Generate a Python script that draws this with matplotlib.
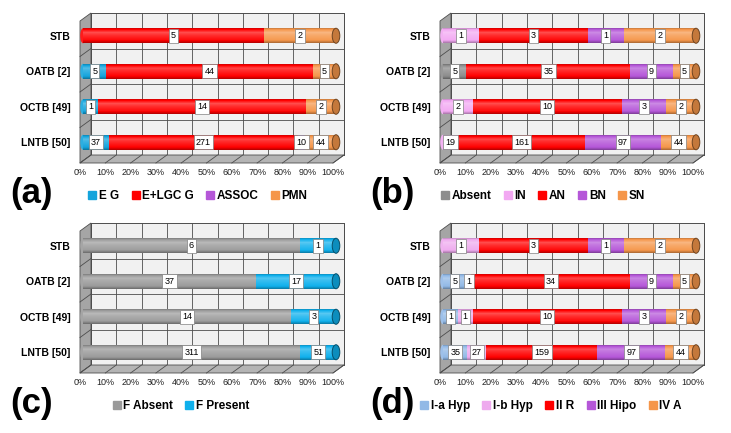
"""Four 100% stacked cylinder bar panels (a)-(d)."""

import matplotlib

matplotlib.use("Agg")
import matplotlib.pyplot as plt
import numpy as np
from matplotlib.colors import to_rgb
from matplotlib.lines import Line2D
from matplotlib.patches import Ellipse, Polygon, Rectangle

plt.rcParams["font.family"] = ["Liberation Sans", "DejaVu Sans"]

CATEGORIES = ["STB", "OATB [2]", "OCTB [49]", "LNTB [50]"]
TICK_LABELS = [f"{p}%" for p in range(0, 101, 10)]

# panel (a)
A_SERIES = ["E G", "E+LGC G", "ASSOC", "PMN"]
A_VALUES = [
    [0, 5, 0, 2],
    [5, 44, 0, 5],
    [1, 14, 0, 2],
    [37, 271, 10, 44],
]
A_COLORS = ["#14a4dc", "#ff0000", "#b557d8", "#f5964a"]

# panel (b)
B_SERIES = ["Absent", "IN", "AN", "BN", "SN"]
B_VALUES = [
    [0, 1, 3, 1, 2],
    [5, 0, 35, 9, 5],
    [0, 2, 10, 3, 2],
    [0, 19, 161, 97, 44],
]
B_COLORS = ["#8c8c8c", "#f2a8f2", "#ff0000", "#b557d8", "#f5964a"]

# panel (c)
C_SERIES = ["F Absent", "F Present"]
C_VALUES = [
    [6, 1],
    [37, 17],
    [14, 3],
    [311, 51],
]
C_COLORS = ["#9a9a9a", "#0fb0ec"]

# panel (d)
D_SERIES = ["I-a Hyp", "I-b Hyp", "II R", "III Hipo", "IV A"]
D_VALUES = [
    [0, 1, 3, 1, 2],
    [5, 1, 34, 9, 5],
    [1, 1, 10, 3, 2],
    [35, 27, 159, 97, 44],
]
D_COLORS = ["#92b9e6", "#eeaaee", "#ff0000", "#b557d8", "#f5964a"]

W, H = 731, 433
FRONT_W, FRONT_H = 253, 142
PX_X, PX_Y = FRONT_W / 100, FRONT_H / 4
BACK = (11 / PX_X, 8 / PX_Y)
BAR = (3 / PX_X, 3 / PX_Y)
BAR_H = 15 / PX_Y


def shade(color, t):
    c = np.array(to_rgb(color))
    w = np.interp(t, [0, 0.18, 0.55, 0.72, 0.88, 1], [-0.32, 0, 0.18, 0.3, 0.05, -0.2])
    if w < 0:
        return tuple(c * (1 + w))
    return tuple(c + (1 - c) * w)


def draw_frame(ax):
    bx, by = BACK
    edge = "#4d4d4d"
    # back wall
    ax.add_patch(Rectangle((bx, -0.5 + by), 100, 4, fc="#f1f1f1", ec=edge, lw=0.7,
                           clip_on=False, zorder=0))
    for x in range(0, 101, 10):
        ax.plot([x + bx, x + bx], [-0.5 + by, 3.5 + by], color=edge, lw=0.6,
                clip_on=False, zorder=0.5)
    for y in [0.5, 1.5, 2.5]:
        ax.plot([bx, 100 + bx], [y + by, y + by], color=edge, lw=0.6,
                clip_on=False, zorder=0.5)
    # left wall
    ax.add_patch(Polygon([(0, -0.5), (bx, -0.5 + by), (bx, 3.5 + by), (0, 3.5)],
                         closed=True, fc="#a5a5a5", ec=edge, lw=0.6, clip_on=False, zorder=1))
    for y in [0.5, 1.5, 2.5]:
        ax.plot([0, bx], [y, y + by], color=edge, lw=0.6, clip_on=False, zorder=1.1)
    # floor
    ax.add_patch(Polygon([(0, -0.5), (100, -0.5), (100 + bx, -0.5 + by), (bx, -0.5 + by)],
                         closed=True, fc="#b4b4b4", ec=edge, lw=0.6, clip_on=False, zorder=1))
    for x in range(0, 101, 10):
        ax.plot([x, x + bx], [-0.5, -0.5 + by], color=edge, lw=0.6, clip_on=False, zorder=1.1)


def draw_bars(ax, values, colors):
    cx, cy = BAR
    n_strips = 16
    for i, row in enumerate(values):
        yc = 3 - i + cy
        total = sum(row)
        pct = [100 * v / total for v in row]
        left = cx
        first = next(k for k, v in enumerate(row) if v > 0)
        last = max(k for k, v in enumerate(row) if v > 0)
        ax.add_patch(Ellipse((left, yc), 2.2, BAR_H, fc=shade(colors[first], 0.4),
                             ec="none", clip_on=False, zorder=2))
        for k, p in enumerate(pct):
            if p == 0:
                continue
            for s in range(n_strips):
                t = (s + 0.5) / n_strips
                y0 = yc - BAR_H / 2 + s * BAR_H / n_strips
                ax.add_patch(Rectangle((left, y0), p, BAR_H / n_strips * 1.05,
                                       fc=shade(colors[k], t), ec="none", lw=0,
                                       clip_on=False, zorder=2.1))
            left += p
        end_col = np.array(to_rgb(colors[last]))
        ax.add_patch(Ellipse((100 + cx, yc), 3.0, BAR_H, fc=tuple(end_col * 0.8),
                             ec=tuple(end_col * 0.45), lw=0.7, clip_on=False, zorder=2.3))
        left = cx
        for v, p in zip(row, pct):
            if v > 0:
                ax.text(left + p / 2, yc, str(v), ha="center", va="center", fontsize=6.5,
                        zorder=3, bbox=dict(boxstyle="square,pad=0.25", fc="white",
                                            ec="#808080", lw=0.5))
            left += p


def make_panel(fig, ox, oy, values, series, colors, letter, legend_x):
    ax = fig.add_axes([(ox + 80) / W, 1 - (oy + 163) / H, FRONT_W / W, FRONT_H / H])
    ax.set_xlim(0, 100)
    ax.set_ylim(-0.5, 3.5)
    for s in ax.spines.values():
        s.set_visible(False)
    ax.set_facecolor("none")
    draw_frame(ax)
    draw_bars(ax, values, colors)
    ax.set_xticks(range(0, 101, 10))
    ax.set_xticklabels(TICK_LABELS, fontsize=6.5)
    ax.set_yticks([3 - i + BAR[1] for i in range(4)])
    ax.set_yticklabels(CATEGORIES, fontsize=7.5, fontweight="bold")
    ax.tick_params(axis="x", length=0, pad=3.5, colors="#222222")
    ax.tick_params(axis="y", length=0, pad=7, colors="black")

    handles = [Line2D([], [], marker="s", linestyle="none", markersize=5.5,
                      markerfacecolor=c, markeredgecolor=c) for c in colors]
    fig.legend(handles, series, loc="center", ncol=len(series), frameon=False,
               bbox_to_anchor=((ox + legend_x) / W, 1 - (oy + 196) / H),
               prop=dict(weight="bold", size=8.5), handletextpad=0.05,
               columnspacing=0.9, handlelength=1.0)
    fig.text((ox + 32) / W, 1 - (oy + 193) / H, letter, fontsize=25,
             fontweight="bold", ha="center", va="center")


def main():
    fig = plt.figure(figsize=(W / 100, H / 100), dpi=100)
    make_panel(fig, 0, 0, A_VALUES, A_SERIES, A_COLORS, "(a)", 197)
    make_panel(fig, 360, 0, B_VALUES, B_SERIES, B_COLORS, "(b)", 182)
    make_panel(fig, 0, 210, C_VALUES, C_SERIES, C_COLORS, "(c)", 180)
    make_panel(fig, 360, 210, D_VALUES, D_SERIES, D_COLORS, "(d)", 190)
    fig.savefig("out.png", dpi=100)


if __name__ == "__main__":
    main()
